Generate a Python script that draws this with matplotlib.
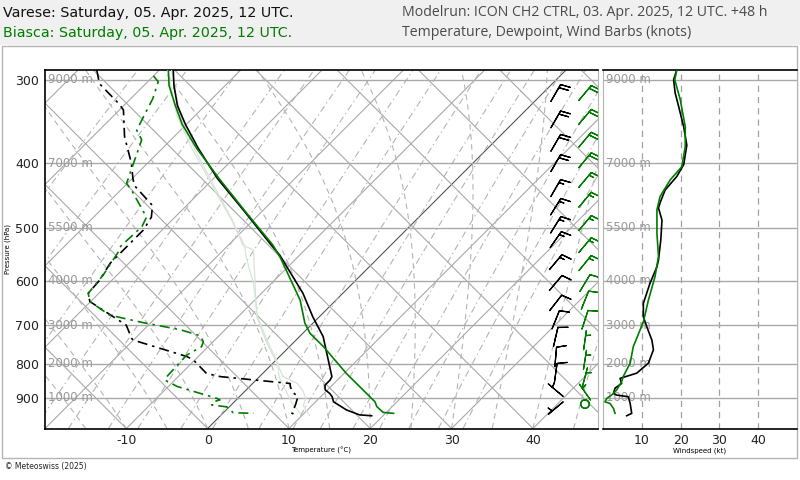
import numpy as np
import matplotlib
matplotlib.use("Agg")
import matplotlib.pyplot as plt
from matplotlib.patches import Rectangle
from matplotlib.ticker import FixedLocator, NullLocator, FixedFormatter

plt.rcParams.update({"font.family": "DejaVu Sans", "axes.unicode_minus": False})

# ---------------- data ----------------
pres_levels = [300, 400, 500, 600, 700, 800, 900]
height_labels = ["9000 m", "7000 m", "5500 m", "4000 m", "3000 m", "2000 m", "1000 m"]
temp_ticks = [-10, 0, 10, 20, 30, 40]
speed_ticks = [10, 20, 30, 40]

# Varese (black)
varese_t_p = [290, 306, 328, 350, 380, 422, 473, 531, 550, 627, 680, 728, 836, 846, 861, 875, 886, 896, 912, 938, 954, 957]
varese_t = [-48.3, -46.3, -43.4, -40.1, -35.6, -29.5, -22.1, -14.7, -12.4, -4.9, -0.8, 2.9, 8.9, 9.1, 9.1, 9.7, 10.7, 11.4, 12.2, 14.8, 17.0, 18.6]
varese_td_p = [290, 304, 326, 333, 365, 400, 422, 432, 463, 482, 504, 521, 565, 600, 627, 645, 700, 733, 737, 780, 789, 827, 836, 856, 865, 881, 896, 922, 949, 954]
varese_td = [-57.7, -55.7, -50.8, -49.5, -46.1, -42.0, -39.9, -38.9, -34.2, -32.9, -32.3, -32.3, -32.3, -31.5, -31.3, -30.1, -22.7, -20.4, -20.0, -11.4, -10.2, -6.9, -4.8, 4.6, 5.0, 5.9, 7.2, 7.9, 8.5, 9.3]
varese_tw_p = [290, 339, 380, 422, 446, 484, 531, 540, 606, 680, 745, 798, 836, 856, 880, 900, 925, 957]
varese_tw = [-48.5, -41.9, -36.1, -30.4, -27.4, -22.9, -18.2, -16.3, -12.0, -7.7, -3.2, 0.5, 2.9, 5.5, 7.2, 8.3, 9.0, 11.0]
varese_ws_p = [290, 300, 314, 329, 353, 376, 402, 419, 439, 459, 467, 487, 521, 559, 572, 606, 649, 680, 704, 737, 762, 798, 826, 841, 856, 870, 886, 891, 896, 917, 949, 957]
varese_ws = [19.0, 18.2, 18.6, 19.5, 20.8, 21.6, 20.8, 19.0, 16.0, 14.7, 14.3, 15.2, 14.9, 14.3, 13.9, 12.1, 10.4, 10.4, 11.3, 12.6, 13.0, 11.7, 8.7, 4.4, 4.8, 3.1, 2.7, 3.5, 6.5, 7.0, 7.4, 6.1]
varese_barb_p = [314, 344, 373, 400, 436, 465, 495, 521, 563, 605, 648, 687, 729, 781, 826, 876, 932]
varese_barb_spd = [19, 20, 21, 21, 16, 15, 15, 15, 14, 12, 10, 11, 12, 12, 9, 3, 7]
varese_barb_dir = [30, 30, 30, 30, 30, 32, 32, 35, 40, 40, 38, 22, 13, 5, 8, 310, 230]

# Biasca (green)
biasca_t_p = [290, 306, 327, 350, 380, 422, 473, 531, 555, 642, 695, 720, 754, 827, 912, 927, 946, 949]
biasca_t = [-48.9, -46.9, -43.8, -40.5, -35.8, -29.3, -22.0, -14.5, -12.0, -4.4, -1.0, 0.9, 4.2, 10.3, 17.3, 18.1, 19.6, 21.0]
biasca_td_p = [296, 302, 320, 357, 369, 429, 438, 482, 498, 533, 543, 589, 627, 645, 676, 694, 711, 726, 741, 754, 776, 836, 846, 865, 901, 906, 912, 922, 928, 947, 949]
biasca_td = [-50.0, -48.7, -47.3, -45.4, -43.6, -40.1, -38.8, -33.5, -32.9, -33.1, -32.7, -31.7, -31.3, -30.1, -26.0, -20.9, -15.5, -12.3, -11.2, -10.8, -11.6, -11.4, -11.2, -8.9, -2.6, -2.0, -2.6, -2.4, -0.3, 1.2, 3.8]
biasca_tw_p = [290, 339, 380, 422, 446, 484, 531, 555, 606, 680, 745, 798, 836, 870, 912, 949]
biasca_tw = [-49.0, -42.3, -36.4, -30.6, -27.6, -23.0, -18.0, -16.2, -12.2, -7.6, -3.0, 0.6, 2.4, 4.5, 7.0, 9.5]
biasca_ws_p = [290, 300, 321, 353, 378, 405, 424, 449, 470, 510, 552, 592, 642, 692, 754, 798, 836, 851, 876, 891, 901, 912, 917, 933, 949]
biasca_ws = [19.0, 18.5, 19.9, 21.2, 21.2, 20.3, 17.3, 14.7, 13.9, 13.9, 14.3, 13.4, 11.7, 10.4, 7.8, 7.0, 5.2, 4.8, 3.5, 2.2, 1.0, 0.5, 1.8, 2.7, 3.1]
biasca_barb_p = [314, 341, 369, 396, 424, 454, 492, 531, 565, 605, 642, 687, 737, 789, 837, 882, 919]
biasca_barb_spd = [20, 21, 21, 21, 17, 14, 14, 14, 14, 12, 12, 10, 7, 6, 5, 3, 1]
biasca_barb_dir = [40, 40, 40, 40, 40, 40, 40, 40, 39, 31, 22, 18, 8, 9, 15, 325, 0]

GREEN = "#007d00"
GRID = "#a9a9a9"
K = 35.6  # skew: degC per ln(1000/p)


def skew_x(t, p):
    return np.asarray(t, float) + K * np.log(1000.0 / np.asarray(p, float))


def moist_adiabat(t0, p):
    # pseudo-adiabat from 1000 hPa, simple Euler steps
    eps, rd, cp, lv = 0.622, 287.0, 1005.0, 2.5e6
    out = [t0]
    tk = t0 + 273.15
    for i in range(1, len(p)):
        tc = tk - 273.15
        es = 6.112 * np.exp(17.67 * tc / (tc + 243.5))
        rs = eps * es / (p[i - 1] - es)
        dtdp = (rd * tk + lv * rs) / (cp + lv * lv * rs * eps / (rd * tk * tk)) / p[i - 1]
        tk = tk + dtdp * (p[i] - p[i - 1])
        out.append(tk - 273.15)
    return np.array(out)


def mixing_ratio_td(w, p):
    e = p * w / (622.0 + w)
    a = np.log(e / 6.112)
    return 243.5 * a / (17.67 - a)


fig = plt.figure(figsize=(8, 4.8), dpi=100)
fig.patch.set_facecolor("white")
fig.patches.append(Rectangle((0, 1 - 45 / 480), 1, 45 / 480, transform=fig.transFigure,
                             facecolor="#f0f0f0", edgecolor="none", zorder=-5))
fig.patches.append(Rectangle((2 / 800, 1 - 458 / 480), 795 / 800, 412 / 480, transform=fig.transFigure,
                             facecolor="white", edgecolor="#b4b4b4", lw=1.0, zorder=-5))

fig.text(3 / 800, 1 - 13 / 480, "Varese: Saturday, 05. Apr. 2025, 12 UTC.", fontsize=10.3,
         color="#111111", va="center", ha="left")
fig.text(3 / 800, 1 - 33 / 480, "Biasca: Saturday, 05. Apr. 2025, 12 UTC.", fontsize=10.3,
         color=GREEN, va="center", ha="left")
fig.text(402 / 800, 1 - 13 / 480, "Modelrun: ICON CH2 CTRL, 03. Apr. 2025, 12 UTC. +48 h",
         fontsize=10.2, color="#4a4a4a", va="center", ha="left", family="Open Sans")
fig.text(402 / 800, 1 - 33 / 480, "Temperature, Dewpoint, Wind Barbs (knots)",
         fontsize=10.2, color="#4a4a4a", va="center", ha="left", family="Open Sans")
fig.text(5 / 800, 1 - 467 / 480, "© Meteoswiss (2025)", fontsize=5.5, color="#222222",
         va="center", ha="left")

# ---------------- skew-T panel ----------------
ax = fig.add_axes([45 / 800, 1 - 428.5 / 480, 553 / 800, 358.5 / 480])
ax.set_yscale("log")
ax.set_ylim(1000, 290)
ax.set_xlim(-20, 48)

pp = np.geomspace(1000, 250, 120)
for t0 in range(-60, 50, 10):
    ax.plot(skew_x(t0, pp), pp, color="#555555" if t0 == 0 else GRID, lw=0.8, zorder=1)
for t0 in range(-20, 110, 10):
    ax.plot(t0 - K * np.log(1000.0 / pp), pp, color=GRID, lw=0.8, zorder=1)
for t0 in range(-20, 50, 5):
    ax.plot(skew_x(moist_adiabat(t0, pp), pp), pp, color="#b4b4b4", lw=0.8,
            ls=(0, (5, 4)), zorder=1)
for w in [0.1, 0.2, 0.4, 0.7, 1, 1.5, 2, 3, 4, 6, 8, 10, 13, 16, 20, 25, 30]:
    ax.plot(skew_x(mixing_ratio_td(w, pp), pp), pp, color="#b4b4b4", lw=0.8,
            ls=(0, (6, 3, 1.2, 3)), zorder=1)
for p, lab in zip(pres_levels, height_labels):
    ax.axhline(p, color=GRID, lw=1.0, zorder=1)
    ax.text(-19.6, p, lab, color="#999999", fontsize=8.5, va="center", ha="left", zorder=2)

ax.plot(skew_x(varese_tw, varese_tw_p), varese_tw_p, color="#dedede", lw=0.9, zorder=3)
ax.plot(skew_x(biasca_tw, biasca_tw_p), biasca_tw_p, color="#d5e8d5", lw=0.9, zorder=3)
ax.plot(skew_x(varese_td, varese_td_p), varese_td_p, color="black", lw=1.2,
        ls=(0, (6, 3, 1.5, 3)), zorder=4)
ax.plot(skew_x(biasca_td, biasca_td_p), biasca_td_p, color=GREEN, lw=1.2,
        ls=(0, (6, 3, 1.5, 3)), zorder=4)
ax.plot(skew_x(varese_t, varese_t_p), varese_t_p, color="black", lw=1.2, zorder=5)
ax.plot(skew_x(biasca_t, biasca_t_p), biasca_t_p, color=GREEN, lw=1.2, zorder=5)

for bp, spd, dr, xpos, col in [(varese_barb_p, varese_barb_spd, varese_barb_dir, 42.8, "black"),
                               (biasca_barb_p, biasca_barb_spd, biasca_barb_dir, 46.4, GREEN)]:
    rad = np.deg2rad(dr)
    u = -np.asarray(spd) * np.sin(rad)
    v = -np.asarray(spd) * np.cos(rad)
    ax.barbs(np.full(len(bp), xpos), bp, u, v, length=5.3, pivot="middle", color=col,
             lw=0.9, zorder=6, sizes=dict(emptybarb=0.22, height=0.5, spacing=0.18))

ax.yaxis.set_major_locator(FixedLocator(pres_levels))
ax.yaxis.set_major_formatter(FixedFormatter([str(p) for p in pres_levels]))
ax.yaxis.set_minor_locator(NullLocator())
ax.set_xticks(temp_ticks)
ax.tick_params(length=0, labelsize=9, pad=4, colors="#222222")
ax.set_xlabel("Temperature (°C)", fontsize=5, labelpad=0)
ax.set_ylabel("Pressure (hPa)", fontsize=5, labelpad=3)
for side in ["left", "top", "bottom"]:
    ax.spines[side].set_color("black")
    ax.spines[side].set_linewidth(1.2)
ax.spines["right"].set_color("#b4b4b4")

# ---------------- wind speed panel ----------------
ax2 = fig.add_axes([603 / 800, 1 - 428.5 / 480, 194 / 800, 358.5 / 480])
ax2.set_yscale("log")
ax2.set_ylim(1000, 290)
ax2.set_xlim(0, 50)
for s in speed_ticks:
    ax2.axvline(s, color="#a0a0a0", lw=0.9, ls=(0, (5, 4)), zorder=1)
for p, lab in zip(pres_levels, height_labels):
    ax2.axhline(p, color=GRID, lw=1.0, zorder=1)
    ax2.text(0.8, p, lab, color="#999999", fontsize=8.5, va="center", ha="left", zorder=2)
ax2.plot(varese_ws, varese_ws_p, color="black", lw=1.2, zorder=4)
ax2.plot(biasca_ws, biasca_ws_p, color=GREEN, lw=1.2, zorder=5)
ax2.set_xticks(speed_ticks)
ax2.yaxis.set_major_locator(NullLocator())
ax2.yaxis.set_minor_locator(NullLocator())
ax2.tick_params(length=0, labelsize=9, pad=4, colors="#222222")
ax2.set_xlabel("Windspeed (kt)", fontsize=5, labelpad=0)
for side in ["top", "bottom"]:
    ax2.spines[side].set_color("black")
    ax2.spines[side].set_linewidth(1.2)
for side in ["left", "right"]:
    ax2.spines[side].set_color("#b4b4b4")

fig.savefig("out.png", dpi=100)
